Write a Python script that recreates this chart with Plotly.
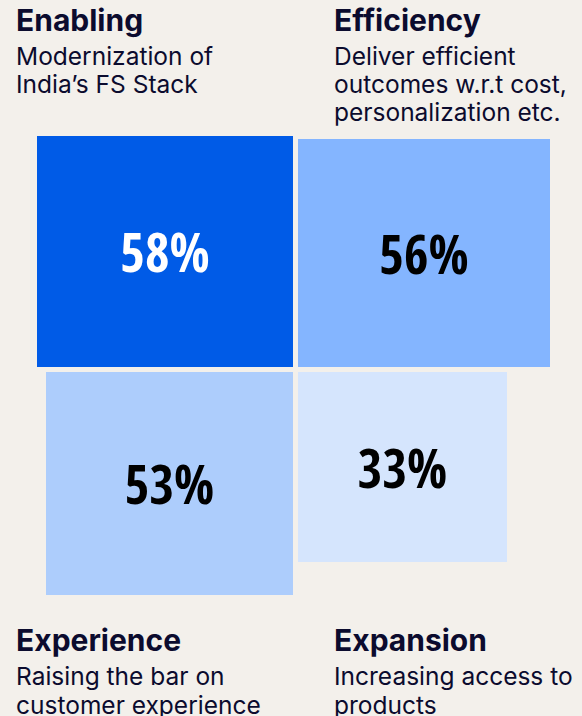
import plotly.graph_objects as go

# ---- data ----
categories = ["Enabling", "Efficiency", "Experience", "Expansion"]
subtitles = [
    ["Modernization of", "India\u2019s FS Stack"],
    ["Deliver efficient", "outcomes w.r.t cost,", "personalization etc."],
    ["Raising the bar on", "customer experience"],
    ["Increasing access to", "products"],
]
values = [58, 56, 53, 33]
quadrants = ["top-left", "top-right", "bottom-left", "bottom-right"]

# ---- styling ----
W, H = 582, 716
BG = "#F3F0EB"
INK = "#0B0B2E"
box_colors = ["#005BE7", "#84B5FF", "#ADCDFC", "#D5E5FD"]
pct_colors = ["#FFFFFF", "#000000", "#000000", "#000000"]
gap = 2.5
cx, cy = 295.3, 369.5  # pixel position of the centre of the cross


def side_w(v):
    return 148.2 + 1.852 * v


def side_h(v):
    return 135.1 + 1.658 * v


xs, ws, bases, hs = [], [], [], []
for v, q in zip(values, quadrants):
    w, h = side_w(v), side_h(v)
    sx = -1 if "left" in q else 1
    xs.append(sx * (gap + w / 2))
    ws.append(w)
    if q.startswith("top"):
        bases.append(gap)
    else:
        bases.append(-gap - h)
    hs.append(h)

fig = go.Figure()
fig.add_trace(go.Bar(
    x=xs, y=hs, base=bases, width=ws,
    marker=dict(color=box_colors, line=dict(width=0)),
    text=[f"{v}%" for v in values],
    textposition="inside", insidetextanchor="middle", textangle=0,
    textfont=dict(family="Open Sans Condensed, Roboto Condensed, sans-serif",
                  size=53, weight="bold", color=pct_colors),
    hoverinfo="skip", showlegend=False,
))

# ---- headings ----
title_pos = {"top-left": (16, 30, 28), "top-right": (334, 30, 28),
             "bottom-left": (16, 650, 29.5), "bottom-right": (334, 650, 29.5)}
ann = []
for cat, subs, q in zip(categories, subtitles, quadrants):
    px, base_y, lh = title_pos[q]
    ann.append(dict(text=f"<b>{cat}</b>", x=px / W, y=1 - (base_y - 10.5) / H, xshift=-2.5,
                    xref="paper", yref="paper", xanchor="left", yanchor="middle",
                    showarrow=False, font=dict(family="Inter, Lato, sans-serif", size=30, color=INK)))
    for i, s in enumerate(subs):
        by = base_y + 34 + lh * i
        ann.append(dict(text=s, x=px / W, y=1 - (by - 8.5) / H, xshift=-2.5,
                        xref="paper", yref="paper", xanchor="left", yanchor="middle",
                        showarrow=False, font=dict(family="Inter, Lato, sans-serif", size=24.5, color=INK)))

fig.update_layout(
    width=W, height=H, margin=dict(l=0, r=0, t=0, b=0),
    paper_bgcolor=BG, plot_bgcolor=BG,
    barmode="overlay", bargap=0,
    xaxis=dict(range=[-cx, W - cx], visible=False, fixedrange=True),
    yaxis=dict(range=[cy - H, cy], visible=False, fixedrange=True),
    annotations=ann,
    uniformtext=dict(minsize=53, mode="show"),
)

fig.write_html("out.html", config=dict(displayModeBar=False),
               post_script="document.body.style.margin='0';document.body.style.background='%s';" % BG)
